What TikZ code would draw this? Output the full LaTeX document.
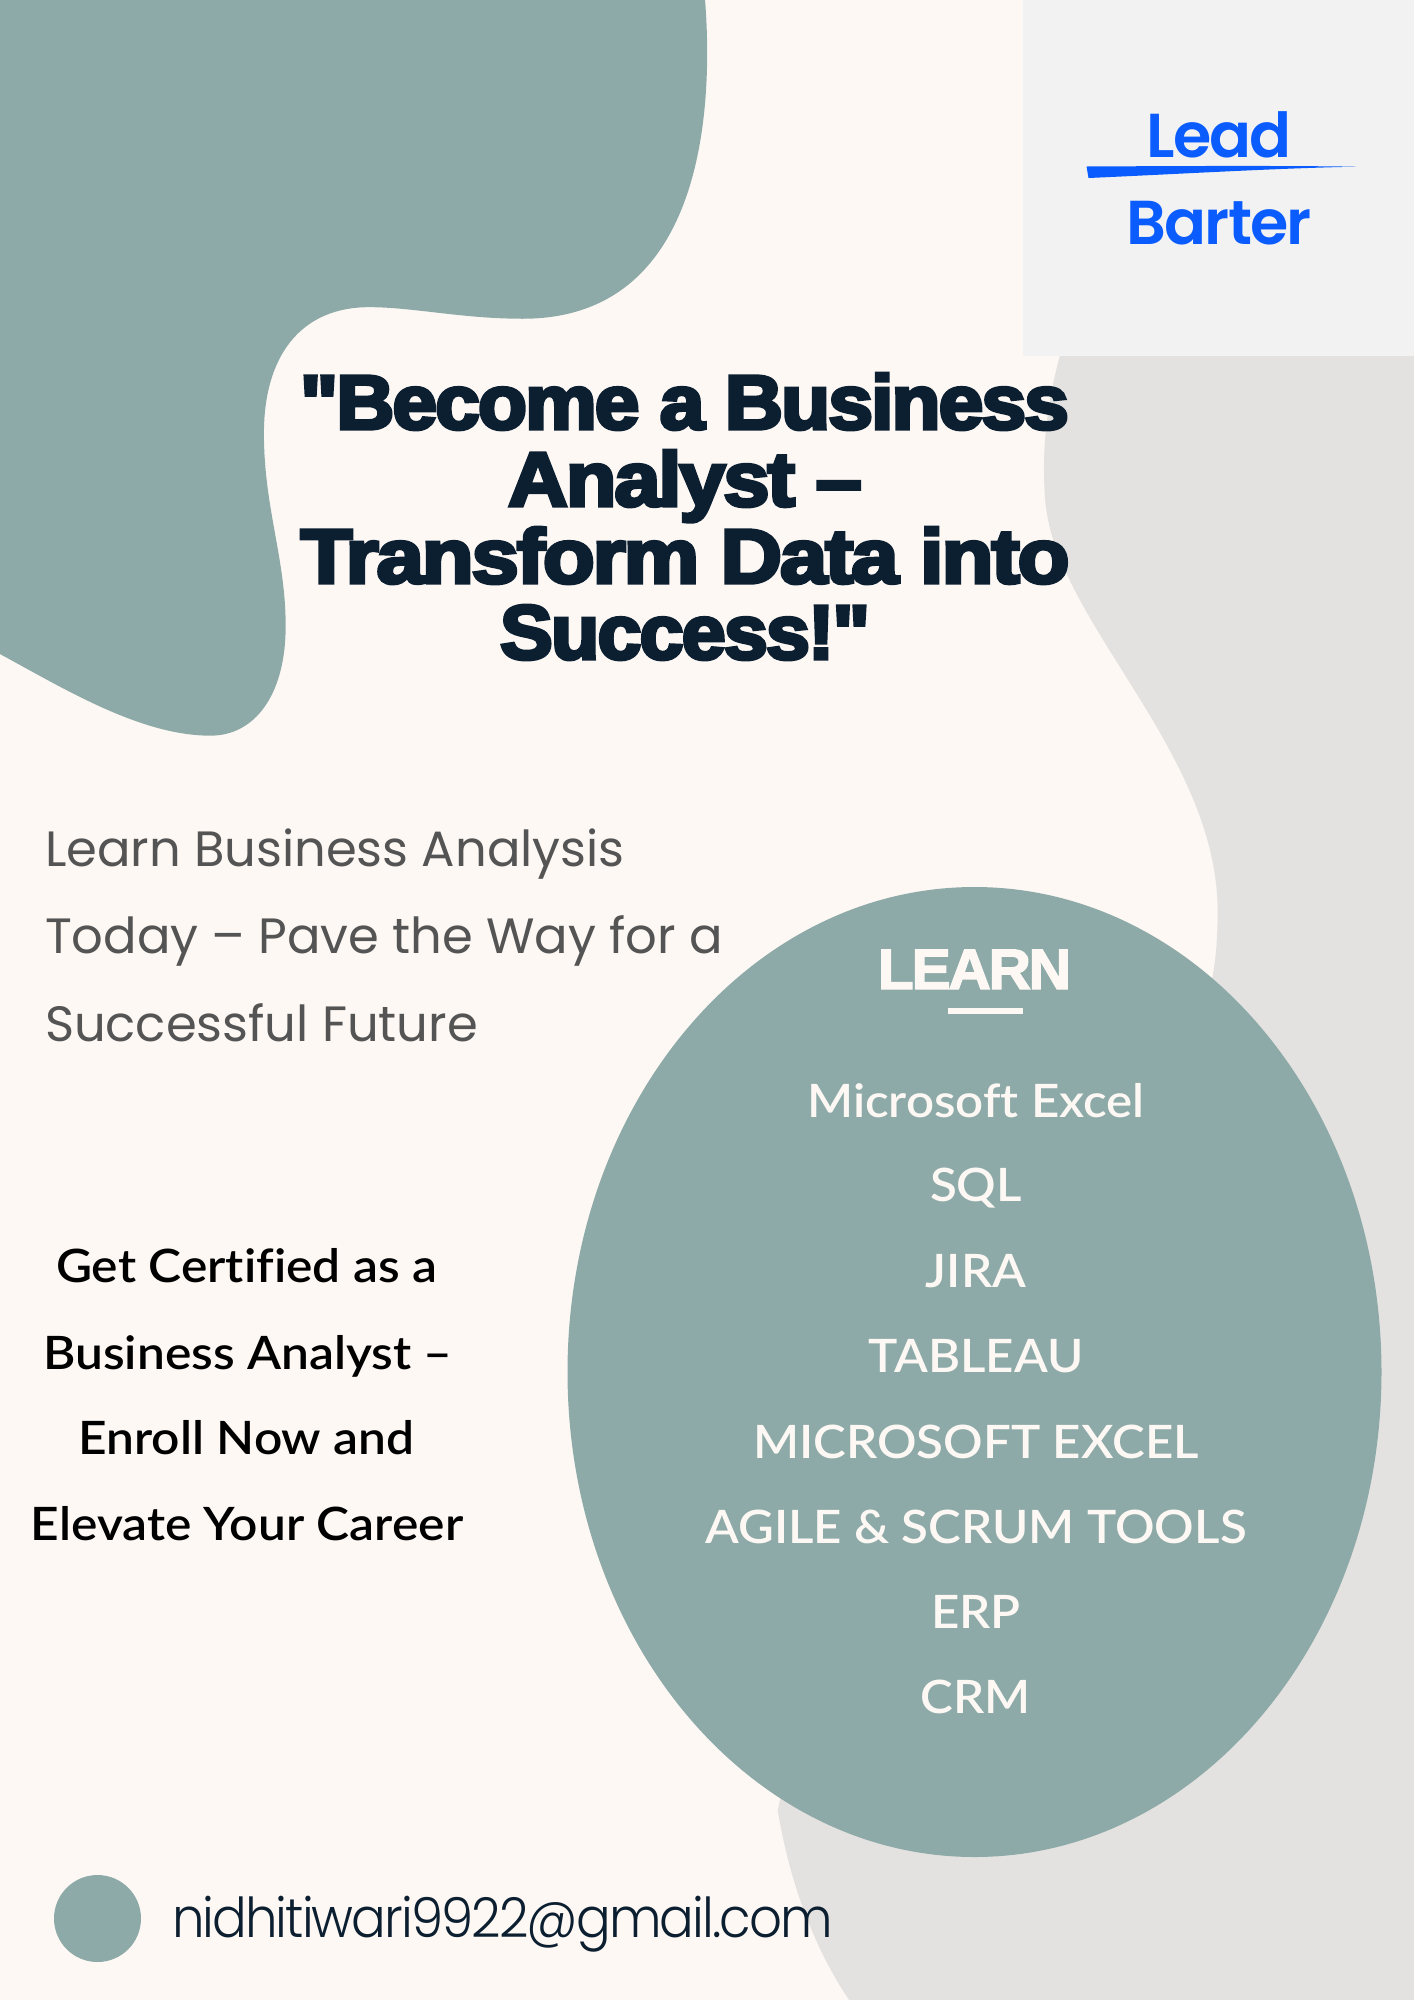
\documentclass[tikz,border=0pt]{standalone}
\usepackage{fontspec}
\setmainfont{Liberation Sans}
\newfontfamily\titlefont[FakeBold=4.4,LetterSpace=-2.5]{Liberation Sans Bold}
\newfontfamily\learnfont[FakeBold=2.5,FakeStretch=1.03,LetterSpace=-4]{Liberation Sans Bold}
\newfontfamily\bodyfont{Poppins}
\newfontfamily\mailfont[FakeStretch=0.935,LetterSpace=-3.5]{Poppins Light}
\newfontfamily\logofont[LetterSpace=-2.8]{Poppins SemiBold}
\newfontfamily\listfont[FakeStretch=1.07,Ligatures=NoCommon]{Lato Semibold}
\newfontfamily\ctafont[FakeStretch=1.08,Ligatures=NoCommon]{Lato Semibold}
\definecolor{paper}{HTML}{FDF8F4}
\definecolor{stone}{HTML}{E3E2E0}
\definecolor{panel}{HTML}{F2F2F2}
\definecolor{teal}{HTML}{8DAAA8}
\definecolor{navy}{HTML}{0C1F31}
\definecolor{blue}{HTML}{0A5CFF}
\definecolor{slate}{HTML}{545454}
\tikzset{
 x=1pt,y=-1pt,
 txt/.style={inner sep=0pt,outer sep=0pt,anchor=base},
 titleline/.style={txt,text=navy,font=\titlefont\fontsize{77}{77}\selectfont},
 subline/.style={txt,anchor=base west,text=slate,font=\bodyfont\fontsize{49.6}{49.6}\selectfont},
 ctaline/.style={txt,text=black,font=\ctafont\fontsize{46}{46}\selectfont},
 listline/.style={txt,text=paper,font=\listfont\fontsize{46}{46}\selectfont},
 logoline/.style={txt,text=blue,font=\logofont\fontsize{62}{62}\selectfont},
}
\begin{document}
\begin{tikzpicture}
\useasboundingbox (0,0) rectangle (1414,2000);
\fill[paper] (0,0) rectangle (1414,2000);
\begin{scope}[x=1.275pt,y=-1.275pt]
\fill[stone] (835,265) .. controls (822,310) and (816,350) .. (820,395) .. controls (830,490) and (955,590) .. (955,715) .. controls (955,740) and (953,760) .. (948,780) -- (700,1000) -- (610,1420) .. controls (620,1480) and (640,1530) .. (666,1568.7) -- (1109,1568.7) -- (1109,265) -- cycle;
\fill[teal] (0,0) -- (553,0) .. controls (560,90) and (550,250) .. (410,250) .. controls (360,250) and (320,240) .. (285,241) .. controls (235,243) and (207,280) .. (207,340) .. controls (207,400) and (225,440) .. (224,495) .. controls (223,545) and (200,577) .. (165,577) .. controls (110,577) and (50,540) .. (0,513) -- cycle;
\end{scope}
\fill[panel] (1023,0) rectangle (1414,356);
\fill[teal] (974.5,1372) ellipse [x radius=407,y radius=485];
\fill[teal] (97.5,1918.5) circle [radius=43.5];
\fill[blue] (1086.5,166.5) .. controls (1180,166) and (1280,165.5) .. (1356.5,166.7) .. controls (1280,168) and (1180,174) .. (1088.5,178) -- cycle;
\node[logoline] (lead) at (1219,157) {Lead};
\node[logoline] (barter) at (1219,244) {Barter};
\node[titleline] (t1) at (684.5,429) {\resizebox{769pt}{\height}{"Become a Business}};
\node[titleline] (t2) at (685,506) {\resizebox{354pt}{\height}{Analyst –}};
\node[titleline] (t3) at (685,583) {\resizebox{769pt}{\height}{Transform Data into}};
\node[titleline] (t4) at (685,659) {\resizebox{370pt}{\height}{Success!"}};
\node[subline] (s1) at (45,866) {Learn Business Analysis};
\node[subline] (s2) at (45,953) {Today – Pave the Way for a};
\node[subline] (s3) at (45,1041) {Successful Future};
\node[ctaline] (c1) at (246.5,1282.5) {Get Certified as a};
\node[ctaline] (c2) at (248,1369.5) {Business Analyst –};
\node[ctaline] (c3) at (246.5,1454.5) {Enroll Now and};
\node[ctaline] (c4) at (247,1540.5) {Elevate Your Career};
\node[txt,text=paper,font=\learnfont\fontsize{57}{57}\selectfont] (learn) at (974.5,989) {LEARN};
\fill[paper] (948,1008) rectangle (1022.5,1014);
\node[listline] (l1) at (976,1117) {Microsoft Excel};
\node[listline] (l2) at (976,1201) {SQL};
\node[listline] (l3) at (976,1287) {JIRA};
\node[listline] (l4) at (976,1372) {TABLEAU};
\node[listline] (l5) at (976,1458) {MICROSOFT EXCEL};
\node[listline] (l6) at (976,1543) {AGILE \& SCRUM TOOLS};
\node[listline] (l7) at (976,1628) {ERP};
\node[listline] (l8) at (976,1713) {CRM};
\node[txt,anchor=base west,text=navy,font=\mailfont\fontsize{55}{55}\selectfont] (mail) at (172,1937) {nidhitiwari9922@gmail.com};
\end{tikzpicture}
\end{document}
